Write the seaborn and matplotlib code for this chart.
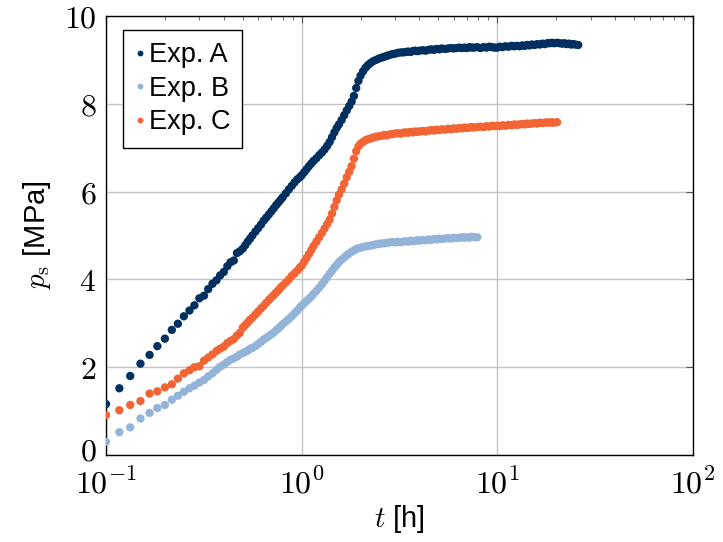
import matplotlib
matplotlib.use("Agg")
import matplotlib.pyplot as plt
import matplotlib.transforms as mtransforms
import seaborn as sns
import pandas as pd

# ---- data ----
T_HOURS = [
    0.100, 0.117, 0.133, 0.150, 0.167, 0.183, 0.200, 0.217, 0.233, 0.250,
    0.267, 0.283, 0.300, 0.317, 0.333, 0.350, 0.367, 0.383, 0.400, 0.417,
    0.433, 0.450, 0.467, 0.483, 0.500,
    0.515, 0.53, 0.545, 0.56, 0.58, 0.6, 0.62, 0.64, 0.66, 0.68, 0.7, 0.72,
    0.74, 0.76, 0.78, 0.8, 0.83, 0.86, 0.89, 0.92, 0.95, 0.98, 1.0,
    1.03, 1.06, 1.09, 1.12, 1.15, 1.19, 1.23, 1.27, 1.31, 1.35, 1.39, 1.43,
    1.47, 1.51, 1.55, 1.6, 1.65, 1.7, 1.75, 1.8, 1.85, 1.9, 1.95, 2.0,
    2.06, 2.12, 2.18, 2.25, 2.32, 2.4, 2.48, 2.56, 2.64, 2.72, 2.8, 2.9,
    3.0, 3.1, 3.2, 3.3, 3.4, 3.5, 3.6, 3.7, 3.8, 3.9, 4.0,
    4.15, 4.3, 4.45, 4.6, 4.75, 4.9, 5.05, 5.2, 5.4, 5.6, 5.8, 6.0, 6.2,
    6.4, 6.6, 6.8, 7.0, 7.2, 7.4, 7.6, 7.9,
    8.2, 8.5, 8.8, 9.1, 9.4, 9.7, 10.0, 10.3, 10.6, 11.0, 11.4, 11.8, 12.2,
    12.6, 13.0, 13.4, 13.8, 14.2, 14.6, 15.0, 15.5, 16.0, 16.5, 17.0, 17.5,
    18.0, 18.5, 19.0, 19.5, 20.2,
    20.8, 21.4, 22.0, 22.6, 23.2, 23.8, 24.4, 25.0, 25.9,
]

P_A = [
    1.16, 1.52, 1.80, 2.08, 2.28, 2.48, 2.65, 2.85, 2.99, 3.16, 3.29, 3.41,
    3.57, 3.63, 3.78, 3.90, 3.98, 4.09, 4.17, 4.30, 4.39, 4.43, 4.60, 4.64, 4.70,
    4.78, 4.86, 4.93, 5.00, 5.09, 5.17, 5.25, 5.34, 5.41, 5.48, 5.55, 5.62,
    5.69, 5.75, 5.81, 5.87, 5.96, 6.05, 6.13, 6.21, 6.28, 6.33, 6.37,
    6.44, 6.51, 6.58, 6.64, 6.70, 6.76, 6.83, 6.89, 6.96, 7.04, 7.13, 7.24,
    7.35, 7.45, 7.53, 7.63, 7.74, 7.85, 7.95, 8.05, 8.18, 8.36, 8.52, 8.64,
    8.74, 8.82, 8.88, 8.93, 8.97, 9.00, 9.03, 9.05, 9.07, 9.09, 9.11, 9.13,
    9.14, 9.16, 9.17, 9.17, 9.18, 9.19, 9.18, 9.20, 9.21, 9.20, 9.21,
    9.22, 9.21, 9.23, 9.24, 9.23, 9.25, 9.24, 9.26, 9.25, 9.26, 9.27, 9.26,
    9.27, 9.28, 9.27, 9.28, 9.27, 9.29, 9.28, 9.28, 9.29,
    9.27, 9.29, 9.28, 9.30, 9.29, 9.28, 9.28, 9.30, 9.29, 9.31, 9.30, 9.32,
    9.31, 9.32, 9.31, 9.33, 9.32, 9.34, 9.33, 9.35, 9.34, 9.36, 9.35, 9.37,
    9.36, 9.38, 9.38, 9.39, 9.38, 9.39,
    9.38, 9.37, 9.38, 9.36, 9.37, 9.35, 9.36, 9.35, 9.34,
]

P_B = [
    0.30, 0.52, 0.63, 0.83, 0.96, 1.07, 1.14, 1.26, 1.35, 1.44, 1.52, 1.58,
    1.65, 1.71, 1.79, 1.86, 1.94, 2.01, 2.06, 2.12, 2.17, 2.20, 2.24, 2.29, 2.32,
    2.35, 2.38, 2.42, 2.44, 2.48, 2.53, 2.58, 2.63, 2.67, 2.71, 2.75, 2.79,
    2.84, 2.88, 2.93, 2.98, 3.04, 3.10, 3.16, 3.23, 3.29, 3.36, 3.40,
    3.46, 3.51, 3.56, 3.61, 3.67, 3.74, 3.81, 3.89, 3.97, 4.05, 4.13, 4.20,
    4.27, 4.33, 4.39, 4.45, 4.50, 4.55, 4.59, 4.63, 4.66, 4.69, 4.71, 4.72,
    4.74, 4.75, 4.76, 4.77, 4.78, 4.80, 4.81, 4.82, 4.82, 4.83, 4.84, 4.85,
    4.84, 4.86, 4.85, 4.86, 4.87, 4.86, 4.88, 4.87, 4.88, 4.89, 4.88,
    4.90, 4.89, 4.91, 4.90, 4.92, 4.91, 4.93, 4.92, 4.93, 4.94, 4.93, 4.95,
    4.94, 4.95, 4.96, 4.95, 4.96, 4.95, 4.97, 4.96, 4.96,
]

P_C = [
    0.91, 1.02, 1.14, 1.23, 1.40, 1.45, 1.54, 1.61, 1.74, 1.86, 1.93, 2.00,
    2.02, 2.15, 2.22, 2.29, 2.37, 2.42, 2.47, 2.55, 2.60, 2.64, 2.72, 2.78, 2.90,
    2.96, 3.02, 3.08, 3.13, 3.20, 3.27, 3.34, 3.40, 3.47, 3.53, 3.59, 3.64,
    3.70, 3.75, 3.81, 3.86, 3.93, 4.00, 4.08, 4.14, 4.20, 4.27, 4.31,
    4.40, 4.49, 4.58, 4.67, 4.76, 4.86, 4.96, 5.06, 5.16, 5.26, 5.36, 5.50,
    5.65, 5.80, 5.93, 6.05, 6.18, 6.33, 6.45, 6.58, 6.75, 6.92, 7.03, 7.09,
    7.13, 7.17, 7.19, 7.21, 7.23, 7.25, 7.26, 7.27, 7.29, 7.28, 7.30, 7.31,
    7.32, 7.33, 7.32, 7.34, 7.35, 7.34, 7.36, 7.35, 7.37, 7.36, 7.37,
    7.38, 7.37, 7.39, 7.40, 7.39, 7.41, 7.40, 7.42, 7.41, 7.43, 7.42, 7.44,
    7.43, 7.45, 7.44, 7.46, 7.45, 7.46, 7.47, 7.46, 7.47,
    7.48, 7.47, 7.49, 7.48, 7.50, 7.49, 7.50, 7.49, 7.51, 7.50, 7.52, 7.51,
    7.53, 7.52, 7.53, 7.54, 7.53, 7.55, 7.54, 7.55, 7.56, 7.55, 7.57, 7.56,
    7.57, 7.58, 7.57, 7.58, 7.57, 7.58,
]

SERIES_NAMES = ["Exp. A", "Exp. B", "Exp. C"]
COLORS = ["#003060", "#93b4d8", "#f26434"]
X_TICKS = [0.1, 1, 10, 100]
X_TICK_LABELS = [r"$10^{-1}$", r"$10^{0}$", r"$10^{1}$", r"$10^{2}$"]
Y_TICKS = [0, 2, 4, 6, 8, 10]
Y_TICK_LABELS = [r"$0$", r"$2$", r"$4$", r"$6$", r"$8$", r"$10$"]

# ---- build a long table ----
frames = []
for name, vals in zip(SERIES_NAMES, [P_A, P_B, P_C]):
    frames.append(pd.DataFrame({"t": T_HOURS[:len(vals)], "p": vals, "exp": name}))
df = pd.concat(frames, ignore_index=True)

sns.set_theme(style="white")
plt.rcParams["font.family"] = ["Liberation Sans", "DejaVu Sans"]
plt.rcParams["mathtext.fontset"] = "cm"
plt.rcParams["text.color"] = "black"
plt.rcParams["axes.labelcolor"] = "black"
plt.rcParams["xtick.color"] = "black"
plt.rcParams["ytick.color"] = "black"

fig = plt.figure(figsize=(7.23, 5.42), dpi=100)
ax = fig.add_axes([0.1466, 0.1605, 0.8119, 0.8100])

sns.scatterplot(data=df, x="t", y="p", hue="exp", hue_order=SERIES_NAMES,
                palette=COLORS, s=36, linewidth=0, edgecolor="none",
                ax=ax, legend=True, zorder=3)

ax.set_xscale("log")
ax.set_xlim(0.1, 100)
ax.set_ylim(0, 10)
ax.set_xticks(X_TICKS)
ax.set_xticklabels(X_TICK_LABELS)
ax.set_yticks(Y_TICKS)
ax.set_yticklabels(Y_TICK_LABELS)
ax.xaxis.set_minor_formatter(matplotlib.ticker.NullFormatter())

ax.grid(True, which="major", color="#c4c4c4", linewidth=1.0)
ax.set_axisbelow(True)
for sp in ax.spines.values():
    sp.set_color("black")
    sp.set_linewidth(1.0)

ax.tick_params(axis="both", which="both", direction="in", top=True, right=True,
               color="#555555")
ax.tick_params(axis="both", which="major", length=5, width=0.8, labelsize=23)
ax.tick_params(axis="y", which="major", pad=7)
ax.tick_params(axis="x", which="major", pad=10)
ax.tick_params(axis="x", which="minor", length=3, width=0.6)

# nudge the "0" label up a little so it does not collide with 10^-1
zero_lbl = ax.yaxis.get_major_ticks()[0].label1
zero_lbl.set_transform(zero_lbl.get_transform() +
                       mtransforms.ScaledTranslation(0, 4 / 72, fig.dpi_scale_trans))

ax.set_xlabel(r"$t$ [h]", fontsize=21, labelpad=2)
ax.set_ylabel(r"$p_{\mathrm{s}}$ [MPa]", fontsize=21, labelpad=8)

handles, labels = ax.get_legend_handles_labels()
leg = ax.legend(handles, labels, loc="upper left", bbox_to_anchor=(0.029, 0.968),
                frameon=True, fancybox=False, edgecolor="black", framealpha=1,
                borderpad=0.45, handletextpad=0.15, handlelength=0.35,
                labelspacing=0.28, borderaxespad=0, markerscale=0.7,
                prop={"family": "Liberation Sans", "size": 19.5})
leg.get_frame().set_linewidth(1.0)

fig.savefig("out.png", dpi=100)
